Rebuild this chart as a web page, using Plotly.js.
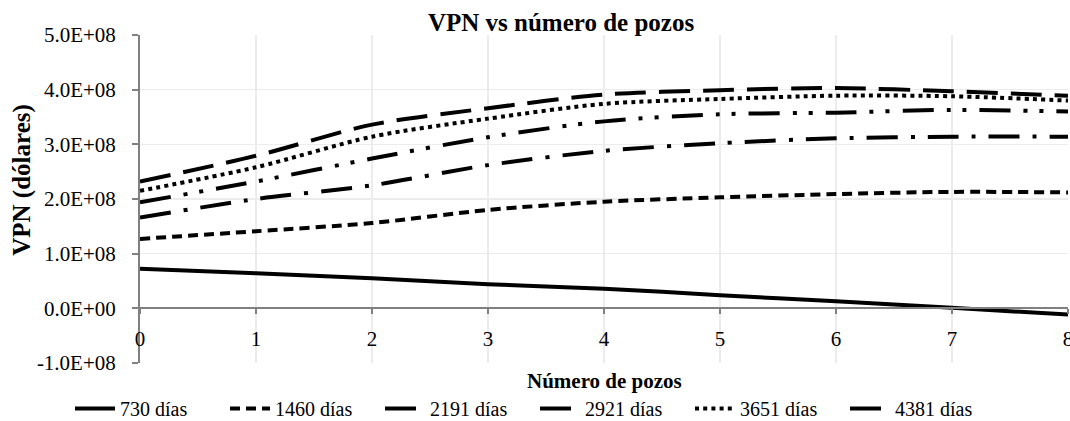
<!DOCTYPE html>
<html>
<head>
<meta charset="utf-8">
<script src="https://cdn.plot.ly/plotly-3.0.1.min.js"></script>
<style>html,body{margin:0;padding:0;background:#fff;}</style>
</head>
<body>
<div id="chart" style="width:1070px;height:421px"></div>
<script>
const pozos = [0, 1, 2, 3, 4, 5, 6, 7, 8];
const seriesNames = ["730 días", "1460 días", "2191 días", "2921 días", "3651 días", "4381 días"];
const v730  = [7.26e7, 6.4e7, 5.5e7, 4.4e7, 3.6e7, 2.4e7, 1.3e7, 0.1e7, -1.15e7];
const v1460 = [1.27e8, 1.41e8, 1.56e8, 1.80e8, 1.95e8, 2.03e8, 2.09e8, 2.13e8, 2.12e8];
const v2191 = [1.66e8, 2.00e8, 2.25e8, 2.62e8, 2.88e8, 3.02e8, 3.11e8, 3.14e8, 3.14e8];
const v2921 = [1.94e8, 2.32e8, 2.74e8, 3.13e8, 3.42e8, 3.55e8, 3.58e8, 3.63e8, 3.60e8];
const v3651 = [2.15e8, 2.58e8, 3.14e8, 3.47e8, 3.74e8, 3.83e8, 3.89e8, 3.88e8, 3.80e8];
const v4381 = [2.32e8, 2.79e8, 3.36e8, 3.66e8, 3.91e8, 3.99e8, 4.03e8, 3.97e8, 3.89e8];
const yTickVals = [-1e8, 0, 1e8, 2e8, 3e8, 4e8, 5e8];
const yTickText = ["-1.0E+08", "0.0E+00", "1.0E+08", "2.0E+08", "3.0E+08", "4.0E+08", "5.0E+08"];
const xTickVals = [0, 1, 2, 3, 4, 5, 6, 7, 8];

const allValues = [v730, v1460, v2191, v2921, v3651, v4381];
const dashes = ["solid", "10px,6px", "31px,13px,4px,13px", "31px,13px,4px,12px,4px,13px", "4px,4.2px", "31px,13px"];

const traces = allValues.map((vals, i) => ({
  x: pozos, y: vals, name: seriesNames[i], type: "scatter", mode: "lines",
  line: {color: "#000000", width: 4, dash: dashes[i], shape: "spline", smoothing: 0.8}
}));

const fam = "serif";
const zeroPos = (0 - (-1e8)) / (5e8 - (-1e8));

const layout = {
  width: 1070, height: 421,
  margin: {l: 140, r: 2, t: 35, b: 58},
  paper_bgcolor: "#ffffff", plot_bgcolor: "#ffffff",
  font: {family: fam, color: "#000000", size: 21},
  title: {text: "<b>VPN vs número de pozos</b>", font: {family: fam, size: 25, color: "#000"},
          x: 0.4537, xref: "paper", xanchor: "center", y: 0.948, yref: "container", yanchor: "middle"},
  xaxis: {
    range: [0, 8], tickvals: xTickVals, ticktext: xTickVals.map(String),
    showgrid: true, gridcolor: "#ececec", gridwidth: 1.5,
    showline: true, linecolor: "#808080", linewidth: 2,
    ticks: "outside", ticklen: 5, tickcolor: "#808080", tickwidth: 2,
    anchor: "free", position: zeroPos, zeroline: false,
    tickfont: {family: fam, size: 21, color: "#000"}, ticklabelstandoff: 6, ticklabeloverflow: "allow"
  },
  xaxis2: {
    range: [0, 8], tickvals: xTickVals, overlaying: "x", anchor: "free", position: zeroPos,
    showgrid: false, showline: false, zeroline: false, showticklabels: false,
    ticks: "inside", ticklen: 5, tickcolor: "#808080", tickwidth: 2
  },
  yaxis: {
    range: [-1e8, 5e8], tickvals: yTickVals, ticktext: yTickText,
    showgrid: true, gridcolor: "#ececec", gridwidth: 1.5,
    showline: true, linecolor: "#808080", linewidth: 2, zeroline: false,
    ticks: "outside", ticklen: 6, tickcolor: "#808080", tickwidth: 2,
    tickfont: {family: fam, size: 21, color: "#000"}, ticklabelstandoff: 12
  },
  yaxis2: {
    range: [-1e8, 5e8], tickvals: yTickVals, overlaying: "y", side: "left", anchor: "x",
    showgrid: false, showline: false, zeroline: false, showticklabels: false,
    ticks: "inside", ticklen: 6, tickcolor: "#808080", tickwidth: 2
  },
  showlegend: true,
  legend: {
    orientation: "h", xref: "container", yref: "container", x: 0.5, xanchor: "center",
    y: 1 - 389/421, yanchor: "top", font: {family: fam, size: 20, color: "#000"},
    entrywidth: 100, entrywidthmode: "pixels", itemwidth: 40, tracegroupgap: 0
  },
  annotations: [
    {text: "<b>VPN (dólares)</b>", xref: "paper", yref: "paper", x: -0.127, y: 0.559,
     textangle: -90, showarrow: false, xanchor: "center", yanchor: "middle",
     font: {family: fam, size: 25, color: "#000"}},
    {text: "<b>Número de pozos</b>", xref: "paper", yref: "paper", x: 0.5, y: -0.054,
     showarrow: false, xanchor: "center", yanchor: "middle",
     font: {family: fam, size: 21, color: "#000"}}
  ]
};

Plotly.newPlot("chart", traces, layout, {displayModeBar: false, staticPlot: true});
</script>
</body>
</html>
